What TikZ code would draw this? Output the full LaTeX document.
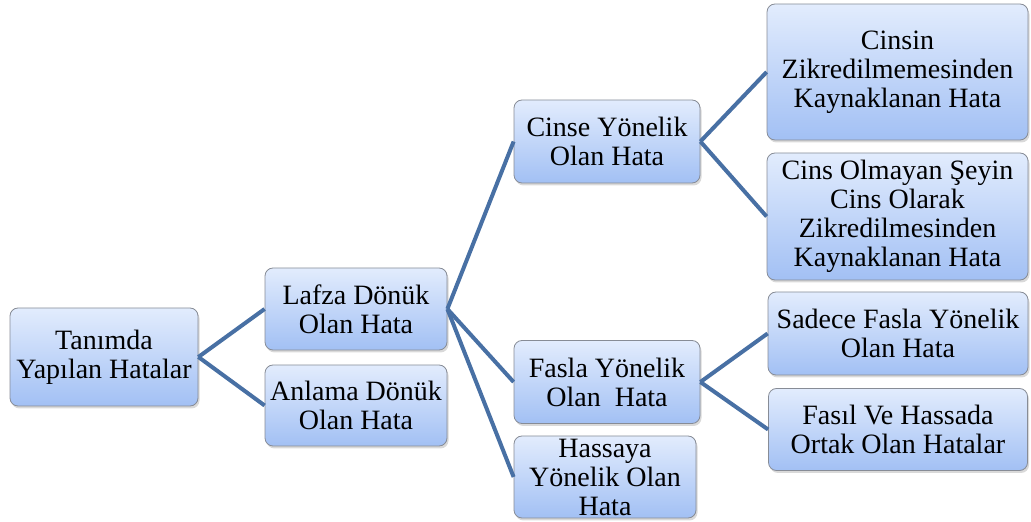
\documentclass[tikz,border=0pt]{standalone}
\usepackage{fontspec}
\setmainfont{Liberation Serif}
\usepackage{tikz}
\usetikzlibrary{shadows}
\definecolor{boxtop}{RGB}{226,236,253}
\definecolor{boxbot}{RGB}{162,192,244}
\definecolor{boxline}{RGB}{135,140,150}
\definecolor{linkblue}{RGB}{72,112,164}
\tikzstyle{block} = [draw=boxline, line width=0.8pt, rectangle, rounded corners=8pt, top color=boxtop, bottom color=boxbot, align=center, inner sep=0pt, font=\fontsize{28}{29}\selectfont, drop shadow={shadow xshift=1.5pt, shadow yshift=-2.5pt, opacity=0.3}]
\tikzstyle{link} = [draw=linkblue, line width=4pt]

\begin{document}
\begin{tikzpicture}[x=1pt, y=1pt]
	  \useasboundingbox (0,0) rectangle (1031,522);
	  \node [block, minimum width=188pt, minimum height=98pt] (root) at (104,165) {Tanımda\\Yapılan Hatalar};
	  \node [block, minimum width=182pt, minimum height=82pt] (lafza) at (356,213) {Lafza Dönük\\Olan Hata};
	  \node [block, minimum width=182pt, minimum height=81pt, node distance=96.5pt, below of=lafza] (anlam) {Anlama Dönük\\Olan Hata};
	
	  \node [block, minimum width=186pt, minimum height=83pt] (cinse) at (607,380.5) {Cinse Yönelik\\Olan Hata};
	  \node [block, minimum width=186pt, minimum height=83pt, node distance=240.5pt, below of=cinse] (fasla) {Fasla Yönelik\\Olan\ \ Hata};
	  \node [block, minimum width=182pt, minimum height=82pt, node distance=95pt, below of=fasla, xshift=-2pt] (hassa) {Hassaya\\Yönelik Olan\\Hata};
	
	  \node [block, minimum width=261pt, minimum height=136pt] (cinsin) at (897.5,450) {Cinsin\\Zikredilmemesinden\\Kaynaklanan Hata};
	  \node [block, minimum width=261pt, minimum height=127pt, node distance=144.5pt, below of=cinsin] (cinsol) {Cins Olmayan Şeyin\\Cins Olarak\\Zikredilmesinden\\Kaynaklanan Hata};
	  \node [block, minimum width=260pt, minimum height=83pt] (sadece) at (898,188.5) {Sadece Fasla Yönelik\\Olan Hata};
	  \node [block, minimum width=259pt, minimum height=82pt, node distance=96pt, below of=sadece] (fasil) {Fasıl Ve Hassada\\Ortak Olan Hatalar};
	
	  \draw [link] (root.east) -- (lafza.west);
	  \draw [link] (root.east) -- (anlam.west);
	  \draw [link] (lafza.east) -- (cinse.west);
	  \draw [link] (lafza.east) -- (fasla.west);
	  \draw [link] (lafza.east) -- (hassa.west);
	  \draw [link] (cinse.east) -- (cinsin.west);
	  \draw [link] (cinse.east) -- (cinsol.west);
	  \draw [link] (fasla.east) -- (sadece.west);
	  \draw [link] (fasla.east) -- (fasil.west);
	\end{tikzpicture}
\end{document}
